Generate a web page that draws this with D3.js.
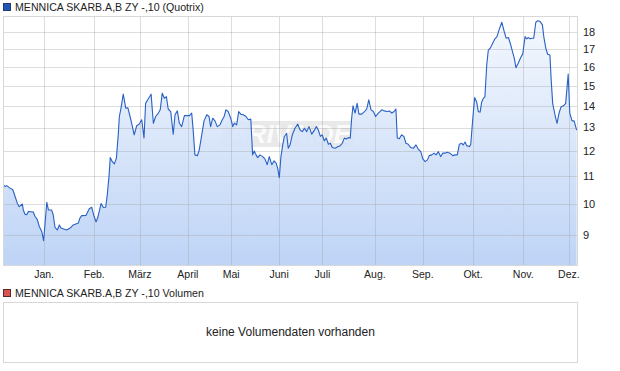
<!DOCTYPE html>
<html>
<head>
<meta charset="utf-8">
<script src="https://cdn.jsdelivr.net/npm/d3@7"></script>
<style>
  body { margin: 0; background: #fff; }
  svg { display: block; font-family: "Liberation Sans", Arial, sans-serif; }
</style>
</head>
<body>
<div class="chart"></div>
<script>
// price series: [trading day since start, close]
var priceSeries = [
  [0.1,10.69],[0.9,10.63],[1.6,10.66],[3.1,10.57],[4.3,10.51],[5.3,10.27],[6.3,10.03],[7.1,9.92],[8.5,10.01],[8.9,9.81],
  [9.6,9.67],[10.4,9.65],[11.1,9.76],[13.3,9.74],[14.0,9.60],[15.0,9.50],[15.9,9.27],[17.0,9.11],[17.8,8.83],[19.2,10.07],
  [19.9,9.81],[21.3,9.81],[22.0,9.65],[22.8,9.24],[23.8,9.16],[24.7,9.32],[25.4,9.22],[27.9,9.16],[29.4,9.22],[30.8,9.32],
  [33.0,9.38],[33.7,9.54],[34.5,9.62],[36.4,9.63],[36.9,9.71],[37.8,9.85],[38.9,9.90],[39.9,9.60],[40.8,9.42],[41.5,9.55],
  [43.0,10.03],[44.0,9.89],[45.0,9.90],[45.7,10.33],[46.5,11.05],[47.0,11.73],[47.9,11.57],[48.8,11.48],[49.7,11.71],[50.5,12.68],
  [51.0,13.50],[51.7,13.88],[52.7,14.57],[53.8,13.89],[54.7,13.91],[55.5,13.58],[56.4,13.19],[57.5,12.68],[58.6,13.08],[59.6,13.15],
  [60.8,13.35],[61.8,12.54],[62.5,14.12],[63.7,14.34],[64.9,14.57],[65.9,13.19],[66.9,13.50],[68.1,13.66],[68.9,13.81],[69.8,14.62],
  [70.7,14.37],[71.6,14.45],[72.4,13.85],[73.5,13.73],[74.6,12.71],[75.4,13.58],[76.4,13.76],[77.3,13.19],[78.3,13.04],[79.5,13.54],
  [81.7,13.54],[82.7,13.66],[83.4,12.82],[84.1,11.84],[85.2,11.81],[86.0,12.04],[87.1,12.68],[88.1,13.30],[89.3,13.58],[90.3,13.50],
  [91.0,13.04],[91.9,13.42],[92.9,13.30],[93.9,13.04],[95.1,13.12],[96.1,13.35],[96.9,13.50],[97.7,13.81],[98.7,13.73],[99.8,13.42],
  [100.7,13.04],[101.4,13.19],[102.4,13.12],[103.3,13.73],[104.2,13.61],[105.3,13.58],[106.5,13.50],[107.5,13.35],[108.6,13.38],[109.4,11.84],
  [110.1,12.00],[110.9,11.84],[111.6,11.73],[112.6,11.84],[113.8,11.77],[114.8,11.68],[115.8,11.45],[116.7,11.77],[117.8,11.45],[118.8,11.60],
  [119.7,11.51],[120.4,11.31],[121.1,10.95],[121.8,11.77],[122.6,12.25],[123.3,12.61],[124.3,12.75],[125.0,12.11],[125.8,12.25],[126.8,12.68],
  [128.0,12.97],[129.2,13.15],[130.2,12.89],[131.2,12.82],[132.1,12.97],[133.1,12.82],[134.1,13.04],[135.3,12.71],[136.3,12.85],[137.3,13.04],
  [138.2,12.89],[139.1,12.61],[139.9,12.68],[140.8,12.42],[141.7,12.54],[142.6,12.28],[143.5,12.32],[144.3,12.14],[145.5,12.11],[146.7,12.17],
  [147.8,12.22],[148.7,12.32],[149.6,12.54],[150.5,12.50],[151.3,12.56],[152.2,12.54],[152.8,13.42],[153.4,14.00],[154.3,13.66],[155.2,14.12],
  [156.0,13.61],[157.2,13.61],[158.4,13.73],[159.4,13.85],[160.3,14.29],[161.3,13.81],[162.3,13.73],[163.3,13.50],[164.5,13.66],[166.0,13.81],
  [167.1,13.76],[168.4,13.73],[169.3,13.76],[170.4,13.66],[171.4,13.73],[172.2,13.85],[172.8,12.54],[173.7,12.51],[174.7,12.68],[175.7,12.61],
  [176.6,12.32],[177.6,12.28],[178.7,12.14],[179.8,12.11],[181.0,12.25],[182.0,12.08],[183.1,11.97],[184.0,11.68],[185.0,11.57],[186.0,11.64],
  [186.8,11.81],[187.9,11.84],[188.9,11.91],[189.8,11.84],[190.8,11.97],[191.8,11.77],[192.7,11.91],[193.7,11.91],[194.7,11.95],[195.9,11.91],
  [197.1,11.81],[198.1,11.84],[199.1,11.84],[200.0,12.28],[201.0,12.32],[201.7,12.25],[202.5,12.37],[203.2,12.22],[204.4,12.18],[205.0,12.28],
  [205.9,13.42],[206.7,14.40],[207.6,14.19],[208.3,13.73],[209.1,13.70],[209.8,14.19],[210.5,14.36],[211.2,14.44],[212.0,16.10],[212.7,16.94],
  [213.7,17.08],[214.6,17.34],[215.6,17.60],[216.5,17.74],[217.4,18.15],[218.6,18.63],[219.6,18.08],[220.5,17.64],[221.5,17.68],[222.3,17.34],
  [223.2,16.89],[224.1,16.47],[224.8,15.95],[225.8,16.19],[226.9,16.51],[227.8,16.72],[228.8,17.74],[229.5,17.60],[230.2,17.68],[231.0,17.60],
  [231.7,17.64],[232.6,17.64],[233.5,18.63],[234.4,18.72],[235.4,18.67],[236.4,18.46],[237.0,17.74],[237.9,17.04],[238.7,16.70],[239.7,16.66],
  [240.2,15.39],[240.9,14.12],[241.9,13.58],[242.8,13.19],[243.7,13.66],[244.6,13.96],[245.6,14.00],[246.6,14.12],[247.7,15.60],[248.4,13.66],
  [249.4,13.30],[250.3,13.30],[251.4,12.89]
];

// month labels and the trading day they start on
var monthLabels = ["Jan.", "Feb.", "März", "April", "Mai", "Juni", "Juli", "Aug.", "Sep.", "Okt.", "Nov.", "Dez."];
var monthStartDay = [18, 40, 60, 81, 100, 121, 140, 163, 184, 206, 228, 248];

// price ticks on right axis (log scale)
var priceTicks = [9, 10, 11, 12, 13, 14, 15, 16, 17, 18];

var seriesName = "MENNICA SKARB.A,B ZY -,10 (Quotrix)";
var volumeName = "MENNICA SKARB.A,B ZY -,10 Volumen";
var noVolumeText = "keine Volumendaten vorhanden";

var svgWidth = 620, svgHeight = 371;

// plot box
var plot = { left: 3, right: 578, top: 16, bottom: 266 };
var volBox = { top: 302, bottom: 362 };

var svg = d3.select(".chart").append("svg")
  .attr("width", svgWidth)
  .attr("height", svgHeight);

var x = d3.scaleLinear()
  .domain([0, 252])
  .range([plot.left, plot.right]);

var y = d3.scaleLog()
  .domain([8.1, 19.03])
  .range([plot.bottom, plot.top]);

// gradient for area
var defs = svg.append("defs");
var grad = defs.append("linearGradient")
  .attr("id", "areaFill")
  .attr("gradientUnits", "userSpaceOnUse")
  .attr("x1", 0).attr("x2", 0)
  .attr("y1", plot.top).attr("y2", plot.bottom);
grad.append("stop").attr("offset", "0%").attr("stop-color", "#f4f8fe");
grad.append("stop").attr("offset", "100%").attr("stop-color", "#b7cff5");

// legend top
svg.append("rect")
  .attr("x", 3.5).attr("y", 3.5).attr("width", 7).attr("height", 7)
  .attr("fill", "#1f56b8").attr("stroke", "#233a6a");
svg.append("text")
  .attr("x", 15).attr("y", 11)
  .attr("font-size", "10.6px")
  .attr("fill", "#222")
  .text(seriesName);

// plot background
svg.append("rect")
  .attr("x", plot.left).attr("y", plot.top)
  .attr("width", plot.right - plot.left).attr("height", plot.bottom - plot.top)
  .attr("fill", "#fff");

// watermark
var wm = svg.append("g").attr("opacity", 0.8);
wm.append("rect")
  .attr("x", 222).attr("y", 121).attr("width", 134).attr("height", 26)
  .attr("rx", 7)
  .attr("transform", "skewX(-12) translate(28,0)")
  .attr("fill", "#e4e4e4");
wm.append("text")
  .attr("x", 290).attr("y", 143)
  .attr("text-anchor", "middle")
  .attr("font-size", "26px")
  .attr("font-weight", "bold")
  .attr("font-style", "italic")
  .attr("fill", "#fbfbfb")
  .text("ARIVA.DE");

// area + line
var area = d3.area()
  .x(function (d) { return x(d[0]); })
  .y0(plot.bottom)
  .y1(function (d) { return y(d[1]); });

var line = d3.line()
  .x(function (d) { return x(d[0]); })
  .y(function (d) { return y(d[1]); });

svg.append("path")
  .datum(priceSeries)
  .attr("d", area)
  .attr("fill", "url(#areaFill)")
  .attr("fill-opacity", 0.9);

// grid lines on top of fill, semi transparent
var grid = svg.append("g").attr("stroke", "#a0a0a0").attr("stroke-opacity", 0.36).attr("stroke-width", 1);
grid.selectAll(".hgrid")
  .data(priceTicks)
  .enter().append("line")
  .attr("x1", plot.left).attr("x2", plot.right)
  .attr("y1", function (d) { return Math.round(y(d)) + 0.5; })
  .attr("y2", function (d) { return Math.round(y(d)) + 0.5; });
grid.selectAll(".vgrid")
  .data(monthStartDay)
  .enter().append("line")
  .attr("y1", plot.top).attr("y2", plot.bottom)
  .attr("x1", function (d) { return Math.round(x(d)) + 0.5; })
  .attr("x2", function (d) { return Math.round(x(d)) + 0.5; });

svg.append("path")
  .datum(priceSeries)
  .attr("d", line)
  .attr("fill", "none")
  .attr("stroke", "#2861c4")
  .attr("stroke-width", 1.1)
  .attr("stroke-linejoin", "round");

// frame
svg.append("rect")
  .attr("x", plot.left + 0.5).attr("y", plot.top + 0.5)
  .attr("width", plot.right - plot.left - 1).attr("height", plot.bottom - plot.top - 1)
  .attr("fill", "none")
  .attr("stroke", "#d8d8d8");

// right axis labels
svg.append("g")
  .selectAll("text")
  .data(priceTicks)
  .enter().append("text")
  .attr("x", 583)
  .attr("y", function (d) { return y(d); })
  .attr("dy", "0.36em")
  .attr("font-size", "11px")
  .attr("fill", "#222")
  .text(function (d) { return d; });

// month labels
svg.append("g")
  .selectAll("text")
  .data(monthStartDay)
  .enter().append("text")
  .attr("x", function (d) { return x(d); })
  .attr("y", 278)
  .attr("text-anchor", "middle")
  .attr("font-size", "10.5px")
  .attr("fill", "#222")
  .text(function (d, i) { return monthLabels[i]; });

// volume legend
svg.append("rect")
  .attr("x", 3.5).attr("y", 289.5).attr("width", 7).attr("height", 7)
  .attr("fill", "#d9534f").attr("stroke", "#5a2a2a");
svg.append("text")
  .attr("x", 15).attr("y", 297)
  .attr("font-size", "10.6px")
  .attr("fill", "#222")
  .text(volumeName);

// empty volume box
svg.append("rect")
  .attr("x", plot.left + 0.5).attr("y", volBox.top + 0.5)
  .attr("width", plot.right - plot.left - 1).attr("height", volBox.bottom - volBox.top)
  .attr("fill", "#fff")
  .attr("stroke", "#d8d8d8");
svg.append("text")
  .attr("x", (plot.left + plot.right) / 2)
  .attr("y", (volBox.top + volBox.bottom) / 2 + 4)
  .attr("text-anchor", "middle")
  .attr("font-size", "12px")
  .attr("fill", "#222")
  .text(noVolumeText);
</script>
</body>
</html>
